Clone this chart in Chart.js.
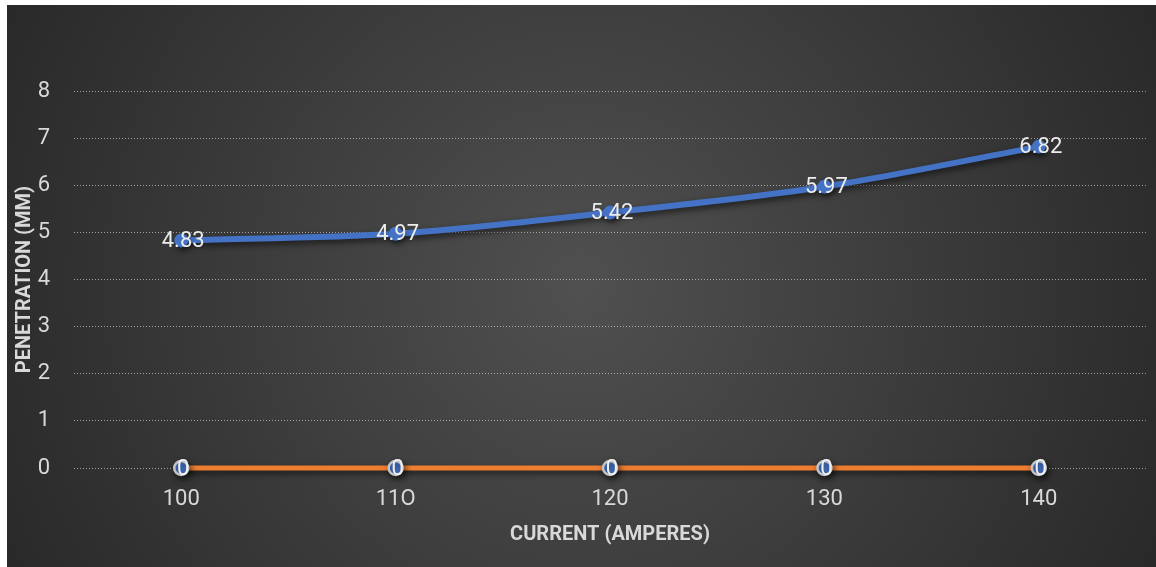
<!DOCTYPE html>
<html>
<head>
<meta charset="utf-8">
<script src="https://cdn.jsdelivr.net/npm/chart.js@4"></script>
<style>
  body { margin: 0; background: #ffffff; }
  #wrap { position: absolute; left: 7px; top: 5px; width: 1149px; height: 562px; }
</style>
</head>
<body>
<div id="wrap"><canvas id="chart"></canvas></div>
<script>
const categories = ["100", "11O", "120", "130", "140"];
const penetration = [4.83, 4.97, 5.42, 5.97, 6.82];
const baseline = [0, 0, 0, 0, 0];
const yTicks = [0, 1, 2, 3, 4, 5, 6, 7, 8];

const ctx = document.getElementById("chart").getContext("2d");

// dark radial background
const bgPlugin = {
  id: "bg",
  beforeDraw(chart) {
    const c = chart.ctx;
    const w = chart.width, h = chart.height;
    const g = c.createRadialGradient(w * 0.5, h * 0.5, 0, w * 0.5, h * 0.5, w * 0.6);
    g.addColorStop(0, "#505050");
    g.addColorStop(1, "#262626");
    c.save();
    c.fillStyle = g;
    c.fillRect(0, 0, w, h);
    c.restore();
  }
};

// drop shadow under lines/points
const shadowPlugin = {
  id: "shadow",
  beforeDatasetDraw(chart) {
    const c = chart.ctx;
    c.save();
    c.shadowColor = "rgba(0,0,0,0.6)";
    c.shadowBlur = 6;
    c.shadowOffsetX = 2;
    c.shadowOffsetY = 3;
  },
  afterDatasetDraw(chart) {
    chart.ctx.restore();
  }
};

// value labels on top of points
const labelPlugin = {
  id: "labels",
  afterDatasetsDraw(chart) {
    const c = chart.ctx;
    c.save();
    c.textAlign = "center";
    c.textBaseline = "middle";
    chart.data.datasets.forEach((ds, i) => {
      const meta = chart.getDatasetMeta(i);
      meta.data.forEach((pt, j) => {
        c.font = ds.labelFont;
        c.fillStyle = ds.labelColor;
        c.fillText(String(ds.data[j]), pt.x + 2, pt.y + 1);
      });
    });
    c.restore();
  }
};

const chart = new Chart(ctx, {
  type: "line",
  data: {
    labels: categories,
    datasets: [
      {
        label: "Penetration",
        data: penetration,
        borderColor: "#4472C4",
        backgroundColor: "#4472C4",
        borderWidth: 6,
        tension: 0.3,
        pointRadius: 7,
        pointBorderWidth: 0,
        pointBackgroundColor: "#4472C4",
        clip: false,
        labelFont: "22px Roboto",
        labelColor: "#ececec"
      },
      {
        label: "Zero",
        data: baseline,
        borderColor: "#ED7D31",
        backgroundColor: "#4472C4",
        borderWidth: 5,
        pointRadius: 7,
        pointBorderWidth: 2.5,
        pointBorderColor: "#c4c4c4",
        pointBackgroundColor: "#4472C4",
        clip: false,
        labelFont: "22px Roboto",
        labelColor: "#f0f0f0"
      }
    ]
  },
  options: {
    responsive: true,
    maintainAspectRatio: false,
    animation: false,
    layout: { padding: { left: 0, right: 10, top: 86, bottom: 0 } },
    plugins: {
      legend: { display: false },
      tooltip: { enabled: false }
    },
    scales: {
      x: {
        offset: true,
        afterFit(scale) { scale.height = 99; },
        grid: { display: false, drawTicks: false },
        border: { display: false },
        ticks: { color: "#d9d9d9", font: { family: "Roboto", size: 22 }, padding: 18 },
        title: {
          display: true,
          text: "CURRENT (AMPERES)",
          color: "#d9d9d9",
          font: { family: "Roboto", size: 20, weight: "bold" },
          padding: { top: 0, bottom: 20 }
        }
      },
      y: {
        min: 0,
        max: 8,
        afterFit(scale) { scale.width = 67; },
        afterBuildTicks(scale) {
          scale.ticks = yTicks.map(v => ({ value: v }));
        },
        grid: { color: "rgba(210,210,210,0.7)", lineWidth: 1, drawTicks: false },
        border: { display: false, dash: [1, 2] },
        ticks: { color: "#d9d9d9", font: { family: "Roboto", size: 22 }, padding: 24 },
        title: {
          display: true,
          text: "PENETRATION (MM)",
          color: "#d9d9d9",
          font: { family: "Roboto", size: 20, weight: "bold" },
          padding: { top: 6, bottom: 0 }
        }
      }
    }
  },
  plugins: [bgPlugin, shadowPlugin, labelPlugin]
});
</script>
</body>
</html>
